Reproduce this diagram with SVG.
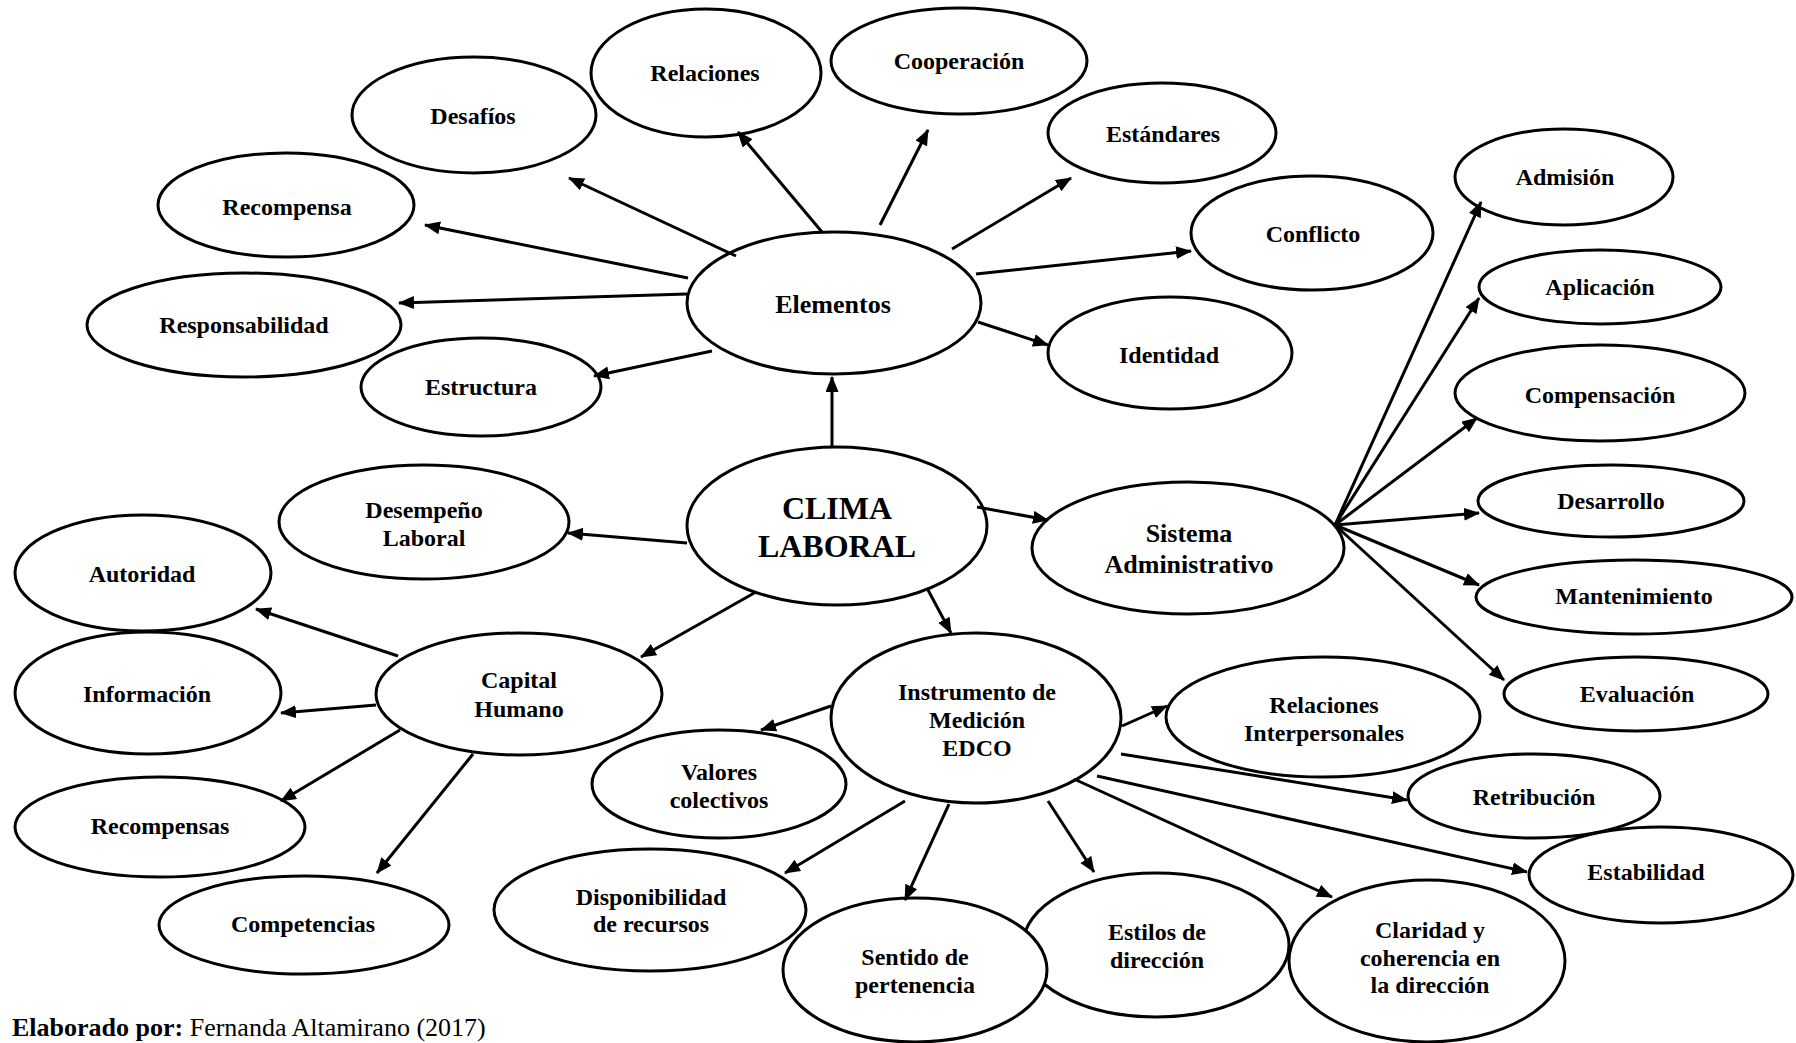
<svg xmlns="http://www.w3.org/2000/svg" width="1796" height="1043" viewBox="0 0 1796 1043">
  <style>
    .node ellipse { fill: #ffffff; stroke: #000000; stroke-width: 3; }
    .node text { font-family: "Liberation Serif", "Times New Roman", serif; font-weight: bold; font-size: 24px; text-anchor: middle; fill: #000000; }
    .node text.big { font-size: 26px; }
    .node text.title { font-size: 32px; }
    #connectors line { stroke: #000000; stroke-width: 3; marker-end: url(#arrow); }
    .credit { font-family: "Liberation Serif", "Times New Roman", serif; font-size: 26px; fill: #000000; }
  </style>
  <defs>
    <marker id="arrow" markerUnits="userSpaceOnUse" markerWidth="18" markerHeight="14" refX="15" refY="6.5" orient="auto">
      <path d="M0,0 L16,6.5 L0,13 z" fill="#000000"/>
    </marker>
  </defs>
  <rect width="1796" height="1043" fill="#ffffff"/>

  <!-- Elementos branch -->
  <g id="desafios" class="node"><ellipse cx="474" cy="115" rx="122" ry="58"/><text x="473" y="124">Desafíos</text></g>
  <g id="relaciones" class="node"><ellipse cx="706" cy="73" rx="115" ry="64"/><text x="705" y="81">Relaciones</text></g>
  <g id="cooperacion" class="node"><ellipse cx="959" cy="61" rx="128" ry="53"/><text x="959" y="69">Cooperación</text></g>
  <g id="estandares" class="node"><ellipse cx="1162" cy="133" rx="114" ry="50"/><text x="1163" y="142">Estándares</text></g>
  <g id="conflicto" class="node"><ellipse cx="1312" cy="233" rx="121" ry="57"/><text x="1313" y="242">Conflicto</text></g>
  <g id="identidad" class="node"><ellipse cx="1170" cy="353" rx="122" ry="56"/><text x="1169" y="363">Identidad</text></g>
  <g id="recompensa" class="node"><ellipse cx="286" cy="205" rx="128" ry="52"/><text x="287" y="215">Recompensa</text></g>
  <g id="responsabilidad" class="node"><ellipse cx="244" cy="325" rx="157" ry="52"/><text x="244" y="333">Responsabilidad</text></g>
  <g id="estructura" class="node"><ellipse cx="481" cy="387" rx="120" ry="49"/><text x="481" y="395">Estructura</text></g>
  <g id="elementos" class="node"><ellipse cx="834" cy="303" rx="147" ry="71"/><text class="big" x="833" y="313">Elementos</text></g>

  <!-- Centre -->
  <g id="clima-laboral" class="node"><ellipse cx="837" cy="526" rx="150" ry="79"/><text class="title" x="837" y="519">CLIMA</text><text class="title" x="837" y="557">LABORAL</text></g>
  <g id="desempeno-laboral" class="node"><ellipse cx="424" cy="522" rx="145" ry="57"/><text x="424" y="518">Desempeño</text><text x="424" y="546">Laboral</text></g>

  <!-- Sistema Administrativo branch -->
  <g id="sistema-administrativo" class="node"><ellipse cx="1188" cy="548" rx="156" ry="66"/><text class="big" x="1189" y="542">Sistema</text><text class="big" x="1189" y="573">Administrativo</text></g>
  <g id="admision" class="node"><ellipse cx="1564" cy="177" rx="109" ry="48"/><text x="1565" y="185">Admisión</text></g>
  <g id="aplicacion" class="node"><ellipse cx="1600" cy="287" rx="121" ry="37"/><text x="1600" y="295">Aplicación</text></g>
  <g id="compensacion" class="node"><ellipse cx="1600" cy="393" rx="145" ry="48"/><text x="1600" y="403">Compensación</text></g>
  <g id="desarrollo" class="node"><ellipse cx="1611" cy="501" rx="133" ry="36"/><text x="1611" y="509">Desarrollo</text></g>
  <g id="mantenimiento" class="node"><ellipse cx="1634" cy="597" rx="158" ry="37"/><text x="1634" y="604">Mantenimiento</text></g>
  <g id="evaluacion" class="node"><ellipse cx="1636" cy="694" rx="132" ry="37"/><text x="1637" y="702">Evaluación</text></g>

  <!-- Capital Humano branch -->
  <g id="autoridad" class="node"><ellipse cx="143" cy="573" rx="128" ry="58"/><text x="142" y="582">Autoridad</text></g>
  <g id="informacion" class="node"><ellipse cx="148" cy="693" rx="133" ry="61"/><text x="147" y="702">Información</text></g>
  <g id="capital-humano" class="node"><ellipse cx="519" cy="694" rx="143" ry="61"/><text x="519" y="688">Capital</text><text x="519" y="717">Humano</text></g>
  <g id="recompensas" class="node"><ellipse cx="160" cy="827" rx="145" ry="50"/><text x="160" y="834">Recompensas</text></g>
  <g id="competencias" class="node"><ellipse cx="304" cy="925" rx="145" ry="49"/><text x="303" y="932">Competencias</text></g>

  <!-- Instrumento de Medición EDCO branch -->
  <g id="instrumento-edco" class="node"><ellipse cx="976" cy="718" rx="145" ry="85"/><text x="977" y="700">Instrumento de</text><text x="977" y="728">Medición</text><text x="977" y="756">EDCO</text></g>
  <g id="valores-colectivos" class="node"><ellipse cx="719" cy="784" rx="127" ry="54"/><text x="719" y="780">Valores</text><text x="719" y="808">colectivos</text></g>
  <g id="relaciones-interpersonales" class="node"><ellipse cx="1323" cy="717" rx="157" ry="60"/><text x="1324" y="713">Relaciones</text><text x="1324" y="741">Interpersonales</text></g>
  <g id="retribucion" class="node"><ellipse cx="1534" cy="796" rx="126" ry="42"/><text x="1534" y="805">Retribución</text></g>
  <g id="estabilidad" class="node"><ellipse cx="1661" cy="875" rx="132" ry="48"/><text x="1646" y="880">Estabilidad</text></g>
  <g id="disponibilidad-recursos" class="node"><ellipse cx="650" cy="910" rx="156" ry="61"/><text x="651" y="905">Disponibilidad</text><text x="651" y="932">de recursos</text></g>
  <g id="estilos-direccion" class="node"><ellipse cx="1156" cy="945" rx="133" ry="72"/><text x="1157" y="940">Estilos de</text><text x="1157" y="968">dirección</text></g>
  <g id="sentido-pertenencia" class="node"><ellipse cx="915" cy="970" rx="132" ry="72"/><text x="915" y="965">Sentido de</text><text x="915" y="993">pertenencia</text></g>
  <g id="claridad-coherencia" class="node"><ellipse cx="1427" cy="961" rx="138" ry="81"/><text x="1430" y="938">Claridad y</text><text x="1430" y="966">coherencia en</text><text x="1430" y="993">la dirección</text></g>

  <g id="connectors">
    <!-- from Elementos -->
    <line x1="822" y1="232" x2="738" y2="132"/>
    <line x1="880" y1="225" x2="928" y2="130"/>
    <line x1="952" y1="249" x2="1071" y2="178"/>
    <line x1="976" y1="274" x2="1191" y2="251"/>
    <line x1="978" y1="322" x2="1048" y2="345"/>
    <line x1="736" y1="256" x2="569" y2="178"/>
    <line x1="688" y1="278" x2="425" y2="225"/>
    <line x1="687" y1="294" x2="399" y2="303"/>
    <line x1="712" y1="351" x2="594" y2="376"/>
    <!-- from CLIMA LABORAL -->
    <line x1="832" y1="447" x2="832" y2="377"/>
    <line x1="687" y1="543" x2="568" y2="533"/>
    <line x1="756" y1="592" x2="641" y2="657"/>
    <line x1="928" y1="590" x2="951" y2="633"/>
    <line x1="977" y1="507" x2="1048" y2="520"/>
    <!-- from Sistema Administrativo -->
    <line x1="1335" y1="525" x2="1481" y2="202"/>
    <line x1="1335" y1="525" x2="1479" y2="298"/>
    <line x1="1335" y1="525" x2="1477" y2="418"/>
    <line x1="1335" y1="525" x2="1479" y2="513"/>
    <line x1="1335" y1="525" x2="1479" y2="585"/>
    <line x1="1335" y1="525" x2="1504" y2="680"/>
    <!-- from Capital Humano -->
    <line x1="398" y1="656" x2="256" y2="609"/>
    <line x1="376" y1="705" x2="281" y2="713"/>
    <line x1="400" y1="730" x2="281" y2="801"/>
    <line x1="473" y1="754" x2="377" y2="873"/>
    <!-- from Instrumento de Medición EDCO -->
    <line x1="831" y1="706" x2="761" y2="730"/>
    <line x1="1122" y1="726" x2="1167" y2="706"/>
    <line x1="1121" y1="754" x2="1407" y2="800"/>
    <line x1="1097" y1="776" x2="1527" y2="872"/>
    <line x1="1074" y1="779" x2="1332" y2="897"/>
    <line x1="1048" y1="801" x2="1094" y2="872"/>
    <line x1="949" y1="804" x2="905" y2="900"/>
    <line x1="905" y1="801" x2="785" y2="873"/>
  </g>

  <text class="credit" x="12" y="1036"><tspan font-weight="bold">Elaborado por:</tspan> Fernanda Altamirano (2017)</text>
</svg>
